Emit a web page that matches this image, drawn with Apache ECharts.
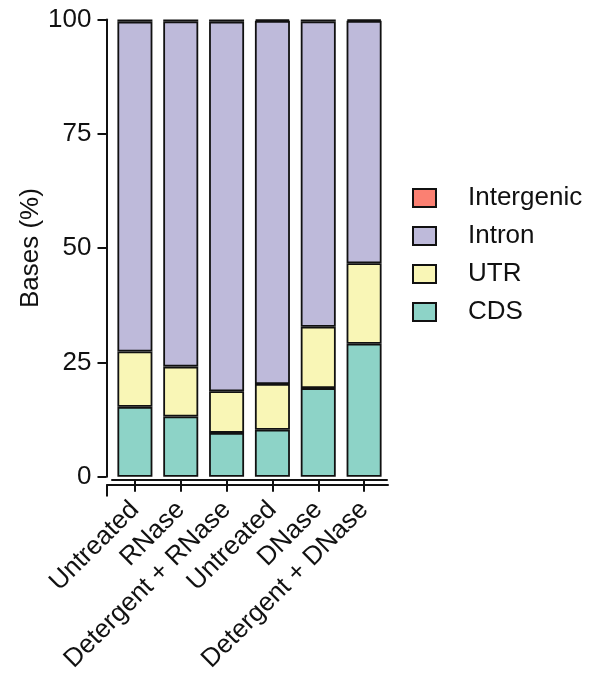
<!DOCTYPE html>
<html>
<head>
<meta charset="utf-8">
<script src="https://cdn.jsdelivr.net/npm/echarts@6/dist/echarts.min.js"></script>
<style>
  html, body { margin: 0; padding: 0; background: #fff; }
  #chart { width: 589px; height: 675px; }
</style>
</head>
<body>
<div id="chart"></div>
<script>
// Sample conditions along the x axis
const categories = ['Untreated', 'RNase', 'Detergent + RNase', 'Untreated', 'DNase', 'Detergent + DNase'];

// Share of bases (%) in each genomic feature, per sample
const cds        = [15.3, 13.2, 9.6, 10.3, 19.4, 29.1];
const utr        = [12.1, 10.9, 9.1, 10.0, 13.4, 17.6];
const intergenic = [0.5, 0.4, 0.5, 0.3, 0.4, 0.3];
const intron     = cds.map((c, i) => +(100 - c - utr[i] - intergenic[i]).toFixed(1));

const yTicks = [0, 25, 50, 75, 100];

const colors = {
  Intergenic: '#FB8072',
  Intron: '#BEBADA',
  UTR: '#F9F6B6',
  CDS: '#8DD3C7'
};

const FONT = 'Liberation Sans, Arial, Helvetica, sans-serif';
const INK = '#111';
const FS = 26;

function barSeries(name, values) {
  return {
    name: name,
    type: 'bar',
    stack: 'total',
    barWidth: 35,
    xAxisIndex: 0,
    yAxisIndex: 0,
    data: values,
    itemStyle: { color: colors[name], borderColor: INK, borderWidth: 1.8 },
    emphasis: { disabled: true }
  };
}

const chart = echarts.init(document.getElementById('chart'), null, { renderer: 'canvas' });

chart.setOption({
  animation: false,
  backgroundColor: '#fff',
  textStyle: { fontFamily: FONT, color: INK },
  grid: [
    // plotting area for the bars
    { left: 112, top: 19.5, width: 275, height: 462, containLabel: false },
    // slightly wider frame carrying the full x-axis baseline
    { left: 107, top: 19.5, width: 281, height: 462, containLabel: false }
  ],
  xAxis: [
    {
      type: 'category',
      gridIndex: 0,
      data: categories,
      offset: 3,
      axisLine: { show: true, onZero: false, lineStyle: { color: INK, width: 2 } },
      axisTick: { show: true, alignWithLabel: true, length: 12, lineStyle: { color: INK, width: 2 } },
      axisLabel: {
        interval: 0,
        rotate: 45,
        margin: 26,
        fontSize: FS,
        fontFamily: FONT,
        color: INK
      }
    },
    {
      type: 'value',
      gridIndex: 1,
      min: 0,
      max: 1,
      offset: 3,
      splitLine: { show: false },
      axisLine: { show: true, onZero: false, lineStyle: { color: INK, width: 2 } },
      axisTick: { show: true, length: 12, customValues: [0], lineStyle: { color: INK, width: 2 } },
      axisLabel: { show: false }
    }
  ],
  yAxis: [
    {
      type: 'value',
      gridIndex: 0,
      min: yTicks[0],
      max: yTicks[yTicks.length - 1],
      interval: 25,
      offset: 5.5,
      name: 'Bases (%)',
      nameLocation: 'middle',
      nameGap: 58,
      nameTextStyle: { fontSize: FS, fontFamily: FONT, color: INK },
      splitLine: { show: false },
      axisLine: { show: true, onZero: false, lineStyle: { color: INK, width: 2 } },
      axisTick: { show: true, length: 9, lineStyle: { color: INK, width: 2 } },
      axisLabel: { margin: 15, fontSize: FS, fontFamily: FONT, color: INK }
    },
    {
      type: 'value',
      gridIndex: 1,
      min: 0,
      max: 100,
      show: false
    }
  ],
  legend: {
    orient: 'vertical',
    left: 407,
    top: 180,
    icon: 'rect',
    itemWidth: 23,
    itemHeight: 18,
    itemGap: 12,
    data: ['Intergenic', 'Intron', 'UTR', 'CDS'],
    textStyle: { fontSize: FS, lineHeight: 26, fontFamily: FONT, color: INK, padding: [0, 0, 0, 27] }
  },
  series: [
    barSeries('CDS', cds),
    barSeries('UTR', utr),
    barSeries('Intron', intron),
    barSeries('Intergenic', intergenic)
  ]
});
</script>
</body>
</html>
